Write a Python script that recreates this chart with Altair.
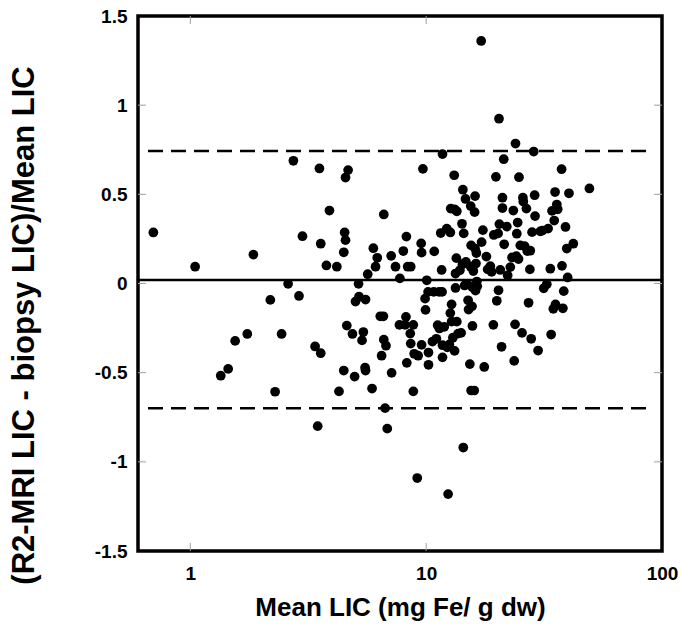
import altair as alt
import pandas as pd

# Mean LIC (mg Fe/ g dw)
mean_lic = [
    0.697, 1.048, 1.851, 1.346, 1.447, 1.549, 1.744, 2.184, 2.288, 2.438,
    2.598, 2.735, 2.889, 2.989, 3.381, 3.527, 3.573, 3.573, 3.468, 3.776,
    3.890, 4.181, 4.270, 4.512, 4.550, 4.667, 4.550, 4.474, 4.474, 4.608,
    4.870, 4.974, 5.017, 5.168, 5.190, 5.347, 5.416, 5.508, 5.533, 5.533,
    5.651, 5.896, 5.971, 6.100, 6.204, 6.391, 6.473, 6.584, 6.613, 6.613,
    6.754, 6.697, 6.840, 7.106, 7.137, 7.413, 7.736, 7.702, 8.002, 8.139,
    8.209, 8.244, 8.279, 8.350, 8.601, 8.564, 8.601, 8.822, 8.822, 8.897,
    9.167, 9.246, 9.524, 9.564, 9.564, 9.687, 9.895, 9.937, 10.06, 10.19,
    10.23, 10.23, 10.63, 10.82, 10.77, 11.05, 11.19, 11.34, 11.38, 11.53,
    11.63, 11.68, 11.73, 11.73, 11.73, 11.93, 12.23, 12.29, 12.39, 12.55,
    12.66, 12.71, 12.66, 12.82, 12.82, 12.98, 13.15, 13.20, 13.20, 13.32,
    13.32, 13.43, 13.49, 13.49, 13.66, 13.90, 14.07, 14.19, 14.25, 14.31,
    14.37, 14.43, 14.56, 14.68, 14.75, 14.94, 15.06, 15.13, 15.32, 15.45,
    15.45, 15.51, 15.51, 15.65, 15.71, 15.71, 15.85, 15.99, 16.05, 16.12,
    16.12, 16.19, 16.26, 16.33, 16.40, 16.47, 17.11, 17.18, 17.40, 17.63,
    18.00, 18.23, 18.71, 18.94, 19.27, 19.35, 19.76, 19.93, 20.19, 20.27,
    20.36, 20.44, 20.62, 20.88, 21.06, 21.06, 21.33, 21.42, 21.98, 22.16,
    22.74, 23.13, 23.42, 23.62, 23.82, 23.92, 24.13, 24.23, 24.43, 24.64,
    24.75, 25.07, 25.50, 25.71, 25.82, 26.16, 26.61, 26.83, 27.18, 27.53,
    27.64, 27.88, 28.59, 28.84, 28.96, 29.83, 30.47, 31.52, 32.47, 32.89,
    33.60, 33.88, 34.17, 34.61, 34.91, 35.20, 35.35, 35.81, 36.11, 37.52,
    37.67, 37.99, 38.32, 38.97, 39.47, 39.81, 40.32, 42.07, 49.23, 28.12,
    31.12,
]

# (R2-MRI LIC - biopsy LIC)/Mean LIC
rel_diff = [
    0.286, 0.094, 0.162, -0.517, -0.479, -0.322, -0.283, -0.092, -0.607, -0.283,
    -0.002, 0.688, -0.070, 0.265, -0.353, 0.645, 0.223, -0.391, -0.800, 0.101,
    0.409, 0.094, -0.605, 0.286, 0.594, 0.636, 0.243, 0.175, -0.488, -0.236,
    -0.283, -0.522, -0.101, -0.002, -0.074, -0.319, -0.272, -0.472, -0.488, -0.090,
    0.052, -0.589, 0.198, 0.094, 0.144, -0.184, -0.405, -0.184, 0.387, -0.315,
    -0.349, -0.699, -0.814, 0.155, -0.501, 0.094, 0.029, -0.232, 0.182, -0.232,
    -0.187, 0.263, -0.445, 0.094, 0.094, -0.281, -0.337, -0.232, -0.605, -0.394,
    -1.091, -0.405, 0.225, 0.173, -0.344, 0.643, -0.085, -0.148, 0.018, -0.047,
    -0.387, -0.456, -0.326, 0.180, -0.047, -0.310, -0.234, -0.047, -0.252, 0.283,
    0.076, -0.047, 0.726, -0.346, -0.414, -0.243, 0.308, -0.358, -1.181, -0.342,
    0.286, 0.420, -0.166, -0.117, -0.214, -0.304, 0.607, 0.416, -0.378, 0.056,
    -0.025, 0.142, 0.405, -0.214, -0.281, 0.074, -0.277, 0.335, 0.108, 0.526,
    -0.920, 0.281, -0.011, 0.474, 0.121, -0.002, -0.094, -0.146, -0.452, 0.094,
    0.434, -0.600, 0.214, -0.128, -0.022, -0.238, 0.070, -0.600, 0.400, 0.490,
    0.196, -0.040, 0.112, 0.171, 0.011, -0.016, 1.360, 0.232, 0.299, -0.468,
    0.151, 0.079, 0.097, 0.065, -0.232, 0.272, 0.598, -0.097, 0.281, -0.038,
    0.924, 0.333, 0.076, -0.355, 0.481, 0.423, 0.697, 0.220, 0.319, 0.045,
    0.092, 0.146, 0.409, -0.434, -0.229, 0.785, 0.153, 0.279, 0.342, 0.137,
    0.596, 0.214, -0.277, 0.481, 0.459, 0.209, 0.420, 0.182, -0.108, 0.079,
    0.184, -0.310, 0.740, 0.495, 0.378, -0.376, 0.292, -0.027, -0.004, 0.308,
    0.083, -0.286, 0.407, -0.142, 0.353, 0.513, -0.117, 0.443, 0.416, 0.641,
    0.099, -0.139, -0.043, 0.317, 0.196, 0.034, 0.506, 0.223, 0.533, 0.288,
    0.297,
]

bias = [0.02]
limits = [0.743, -0.70]
x_ticks = [1, 10, 100]
x_inner_ticks = [1, 10]
y_ticks = [-1.5, -1, -0.5, 0, 0.5, 1, 1.5]
y_inner_ticks = [-1, -0.5, 0, 0.5, 1]

W, H = 524, 535
FONT = "Liberation Sans"

xs = alt.Scale(type="log", domain=[0.6, 100], nice=False)
ys = alt.Scale(domain=[-1.5, 1.5], nice=False)

x_axis = alt.Axis(
    values=x_ticks, labelExpr="'' + datum.value", title="Mean LIC (mg Fe/ g dw)",
    grid=False, domain=False, ticks=False, labelFlush=False, labelPadding=13,
    labelFont=FONT, labelFontSize=19, labelFontWeight="bold", labelColor="black",
    labelBaseline="top",
    titleFont=FONT, titleFontSize=26, titleFontWeight="bold", titleColor="black",
    titleX=W / 2, titleY=64, titleBaseline="alphabetic", titleAlign="center")
y_axis = alt.Axis(
    values=y_ticks, labelExpr="'' + datum.value",
    title="(R2-MRI LIC - biopsy LIC)/Mean LIC",
    grid=False, domain=False, ticks=False, labelFlush=False, labelPadding=11,
    labelFont=FONT, labelFontSize=19, labelFontWeight="bold", labelColor="black",
    titleFont=FONT, titleFontSize=31, titleFontWeight="bold", titleColor="black",
    titleX=-105, titleY=309, titleAngle=-90, titleAlign="center",
    titleBaseline="alphabetic")

pts = pd.DataFrame({"x": mean_lic, "y": rel_diff})

points = alt.Chart(pts).mark_circle(size=95, color="black", opacity=1).encode(
    x=alt.X("x:Q", scale=xs, axis=x_axis),
    y=alt.Y("y:Q", scale=ys, axis=y_axis),
)

bias_line = alt.Chart(pd.DataFrame({"y": bias})).mark_rule(
    color="black", strokeWidth=2.5).encode(
    y=alt.Y("y:Q", scale=ys, axis=y_axis), x=alt.value(0), x2=alt.value(W))

limit_lines = alt.Chart(pd.DataFrame({"y": limits})).mark_rule(
    color="black", strokeWidth=2.5, strokeDash=[15, 8]).encode(
    y=alt.Y("y:Q", scale=ys, axis=y_axis), x=alt.value(10), x2=alt.value(W - 10))

xt = pd.DataFrame({"x": x_inner_ticks})
yt = pd.DataFrame({"y": y_inner_ticks})
TICK = "#a0a0a0"
xtick_bottom = alt.Chart(xt).mark_rule(color=TICK, strokeWidth=1).encode(
    x=alt.X("x:Q", scale=xs, axis=x_axis), y=alt.value(H - 8), y2=alt.value(H))
xtick_top = alt.Chart(xt).mark_rule(color=TICK, strokeWidth=1).encode(
    x=alt.X("x:Q", scale=xs, axis=x_axis), y=alt.value(0), y2=alt.value(8))
ytick_left = alt.Chart(yt).mark_rule(color=TICK, strokeWidth=1).encode(
    y=alt.Y("y:Q", scale=ys, axis=y_axis), x=alt.value(0), x2=alt.value(8))
ytick_right = alt.Chart(yt).mark_rule(color=TICK, strokeWidth=1).encode(
    y=alt.Y("y:Q", scale=ys, axis=y_axis), x=alt.value(W - 8), x2=alt.value(W))

chart = alt.layer(
    xtick_bottom, xtick_top, ytick_left, ytick_right,
    bias_line, limit_lines, points,
).properties(
    width=W, height=H,
    padding={"left": 138, "top": 16, "right": 19, "bottom": 79},
    autosize=alt.AutoSizeParams(type="none"),
    background="white",
).configure_view(stroke="black", strokeWidth=3.5)

chart.save("out.html", embed_options={"renderer": "svg", "actions": False})
